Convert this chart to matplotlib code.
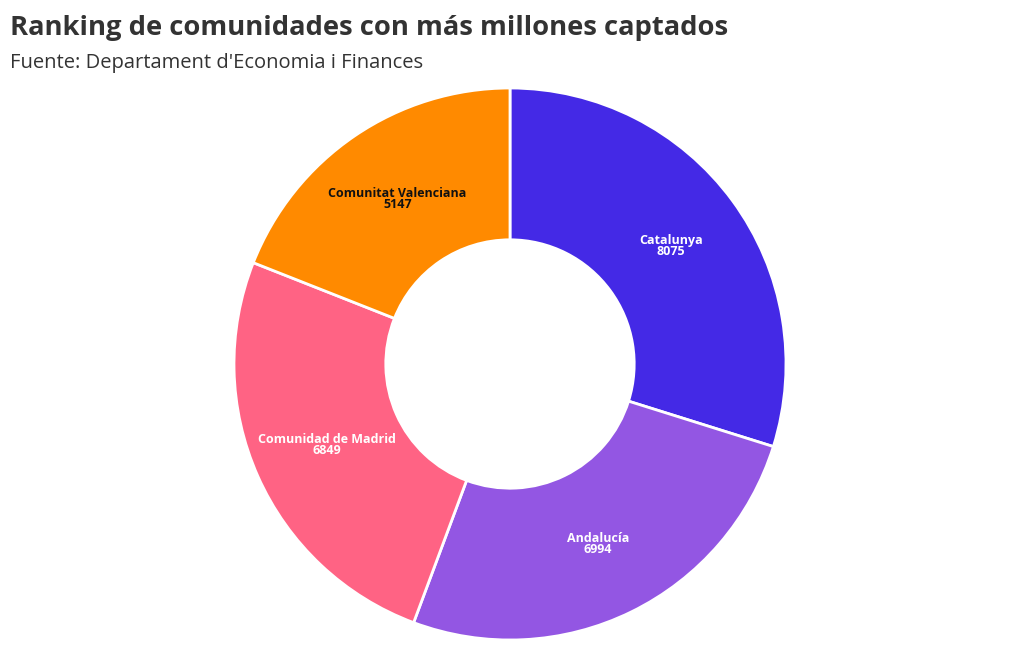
import matplotlib
matplotlib.use("Agg")
import matplotlib.pyplot as plt
import numpy as np

regions = ["Catalunya", "Andalucía", "Comunidad de Madrid", "Comunitat Valenciana"]
millions = [8075, 6994, 6849, 5147]
colors = ["#4429E6", "#9356E3", "#FF6384", "#FF8A00"]
label_colors = ["white", "white", "white", "#111111"]

plt.rcParams['font.family'] = ['Open Sans', 'DejaVu Sans']

fig = plt.figure(figsize=(10.2, 6.5), dpi=100)

# pie centred at (510, 364) px with an outer radius of 276 px
ax = fig.add_axes([234 / 1020, 10 / 650, 552 / 1020, 552 / 650])
wedges, _ = ax.pie(millions, colors=colors, startangle=90, counterclock=False,
                   radius=1.0, wedgeprops=dict(width=0.55, edgecolor="white", linewidth=2))
for w in wedges:
    w.set_clip_on(False)

total = sum(millions)
start = 90.0
for name, val, tc in zip(regions, millions, label_colors):
    span = val / total * 360
    mid = np.deg2rad(start - span / 2)
    r = 0.725
    ax.text(r * np.cos(mid), r * np.sin(mid), f"{name}\n{val}", ha="center", va="center",
            fontsize=9, fontweight="bold", color=tc, linespacing=0.8)
    start -= span

ax.set_xlim(-1, 1)
ax.set_ylim(-1, 1)
ax.set_aspect("equal")
ax.axis("off")

fig.text(10 / 1020, 1 - 28 / 650, "Ranking de comunidades con más millones captados",
         fontsize=19.7, fontweight="bold", color="#333333", va="center", ha="left")
fig.text(10 / 1020, 1 - 63 / 650, "Fuente: Departament d'Economia i Finances",
         fontsize=14.5, color="#333333", va="center", ha="left")

fig.savefig("out.png", dpi=100, facecolor="white")
